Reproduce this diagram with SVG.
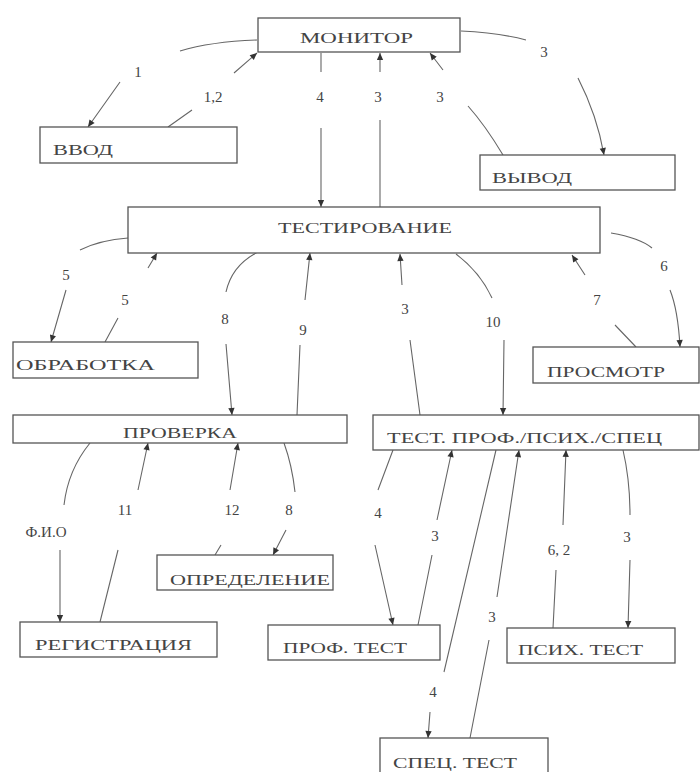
<svg xmlns="http://www.w3.org/2000/svg" width="700" height="772" viewBox="0 0 700 772">
<defs>
<style>
.box{fill:#fff;stroke:#555;stroke-width:1.3}
.t{font-family:"Liberation Serif","Times New Roman",serif;font-size:15px;fill:#444}
.c{fill:none;stroke:#666;stroke-width:1.1;marker-end:url(#arr)}
.l{font-family:"Liberation Serif","Times New Roman",serif;font-size:15px;fill:#444;text-anchor:middle}
</style>
<marker id="arr" viewBox="0 0 10 10" refX="10" refY="5" markerWidth="8" markerHeight="7" orient="auto" markerUnits="userSpaceOnUse">
<path d="M0,0.5 L10,5 L0,9.5 z" fill="#333"/>
</marker>
</defs>
<rect width="700" height="772" fill="#fff"/>

<g id="connectors">
<path class="c" d="M 257 40 C 230 41 200 45 180 51 M 120 82 L 88 127"/>
<path class="c" d="M 168 127 L 192 110 M 234 73 L 257 53"/>
<path class="c" d="M 321 53 L 321 72 M 321 128 L 321 207"/>
<path class="c" d="M 380 207 L 380 120 M 380 72 L 380 53"/>
<path class="c" d="M 503 155 Q 485 125 468 106 M 443 70 L 430 53"/>
<path class="c" d="M 461 31 Q 500 33 526 40 M 578 78 Q 597 115 604 155"/>
<path class="c" d="M 128 238 Q 100 240 80 250 M 66 290 L 51 342"/>
<path class="c" d="M 105 342 L 118 318 M 148 268 L 157 253"/>
<path class="c" d="M 258 252 Q 232 265 226 292 M 226 344 L 232 415"/>
<path class="c" d="M 297 415 L 300 345 M 305 300 L 310 253"/>
<path class="c" d="M 420 415 L 410 340 M 402 285 L 400 254"/>
<path class="c" d="M 456 254 Q 480 272 492 298 M 504 340 L 503 415"/>
<path class="c" d="M 636 347 L 615 325 M 585 275 L 572 255"/>
<path class="c" d="M 611 233 Q 640 238 652 248 M 670 290 Q 678 310 680 347"/>
<path class="c" d="M 90 443 Q 68 470 64 505 M 60 550 L 60 622"/>
<path class="c" d="M 100 622 L 118 550 M 138 490 L 148 443"/>
<path class="c" d="M 215 555 L 221 545 M 230 490 L 238 443"/>
<path class="c" d="M 284 443 Q 292 465 295 492 M 286 530 L 273 555"/>
<path class="c" d="M 393 450 L 378 490 M 375 545 L 393 625"/>
<path class="c" d="M 418 625 L 432 555 M 437 520 L 452 450"/>
<path class="c" d="M 496 450 L 444 672 M 430 712 L 428 738"/>
<path class="c" d="M 470 738 L 489 640 M 497 597 L 519 450"/>
<path class="c" d="M 553 628 L 556 570 M 563 525 L 566 450"/>
<path class="c" d="M 623 450 Q 630 480 630 515 M 630 560 L 628 628"/>
<text class="l" x="138" y="77">1</text>
<text class="l" x="213" y="102">1,2</text>
<text class="l" x="320" y="102">4</text>
<text class="l" x="378" y="102">3</text>
<text class="l" x="440" y="102">3</text>
<text class="l" x="544" y="57">3</text>
<text class="l" x="66" y="280">5</text>
<text class="l" x="125" y="305">5</text>
<text class="l" x="225" y="324">8</text>
<text class="l" x="303" y="335">9</text>
<text class="l" x="405" y="314">3</text>
<text class="l" x="493" y="327">10</text>
<text class="l" x="597" y="305">7</text>
<text class="l" x="664" y="271">6</text>
<text class="l" x="46" y="537">Ф.И.О</text>
<text class="l" x="125" y="515">11</text>
<text class="l" x="232" y="515">12</text>
<text class="l" x="289" y="515">8</text>
<text class="l" x="378" y="518">4</text>
<text class="l" x="435" y="541">3</text>
<text class="l" x="559" y="555">6, 2</text>
<text class="l" x="627" y="542">3</text>
<text class="l" x="492" y="622">3</text>
<text class="l" x="433" y="697">4</text>
</g>

<g id="monitor"><rect class="box" x="258" y="18" width="202" height="34"/><text class="t" x="300" y="43" textLength="113" lengthAdjust="spacingAndGlyphs">МОНИТОР</text></g>
<g id="vvod"><rect class="box" x="40" y="127" width="197" height="36"/><text class="t" x="53" y="155" textLength="60" lengthAdjust="spacingAndGlyphs">ВВОД</text></g>
<g id="vyvod"><rect class="box" x="480" y="155" width="195" height="35"/><text class="t" x="492" y="183" textLength="80" lengthAdjust="spacingAndGlyphs">ВЫВОД</text></g>
<g id="testirovanie"><rect class="box" x="128" y="207" width="472" height="46"/><text class="t" x="278" y="233" textLength="174" lengthAdjust="spacingAndGlyphs">ТЕСТИРОВАНИЕ</text></g>
<g id="obrabotka"><rect class="box" x="13" y="342" width="185" height="36"/><text class="t" x="16" y="370" textLength="139" lengthAdjust="spacingAndGlyphs">ОБРАБОТКА</text></g>
<g id="prosmotr"><rect class="box" x="533" y="347" width="166" height="36"/><text class="t" x="547" y="377" textLength="118" lengthAdjust="spacingAndGlyphs">ПРОСМОТР</text></g>
<g id="proverka"><rect class="box" x="13" y="415" width="334" height="28"/><text class="t" x="123" y="438" textLength="114" lengthAdjust="spacingAndGlyphs">ПРОВЕРКА</text></g>
<g id="test-prof"><rect class="box" x="373" y="415" width="326" height="35"/><text class="t" x="387" y="443" textLength="275" lengthAdjust="spacingAndGlyphs">ТЕСТ. ПРОФ./ПСИХ./СПЕЦ</text></g>
<g id="opredelenie"><rect class="box" x="157" y="555" width="176" height="35"/><text class="t" x="170" y="585" textLength="160" lengthAdjust="spacingAndGlyphs">ОПРЕДЕЛЕНИЕ</text></g>
<g id="registraciya"><rect class="box" x="20" y="622" width="197" height="35"/><text class="t" x="35" y="650" textLength="157" lengthAdjust="spacingAndGlyphs">РЕГИСТРАЦИЯ</text></g>
<g id="prof-test"><rect class="box" x="268" y="625" width="172" height="35"/><text class="t" x="283" y="653" textLength="124" lengthAdjust="spacingAndGlyphs">ПРОФ. ТЕСТ</text></g>
<g id="psih-test"><rect class="box" x="507" y="628" width="168" height="35"/><text class="t" x="518" y="655" textLength="125" lengthAdjust="spacingAndGlyphs">ПСИХ. ТЕСТ</text></g>
<g id="spec-test"><rect class="box" x="380" y="738" width="168" height="45"/><text class="t" x="393" y="768" textLength="124" lengthAdjust="spacingAndGlyphs">СПЕЦ. ТЕСТ</text></g>
</svg>
